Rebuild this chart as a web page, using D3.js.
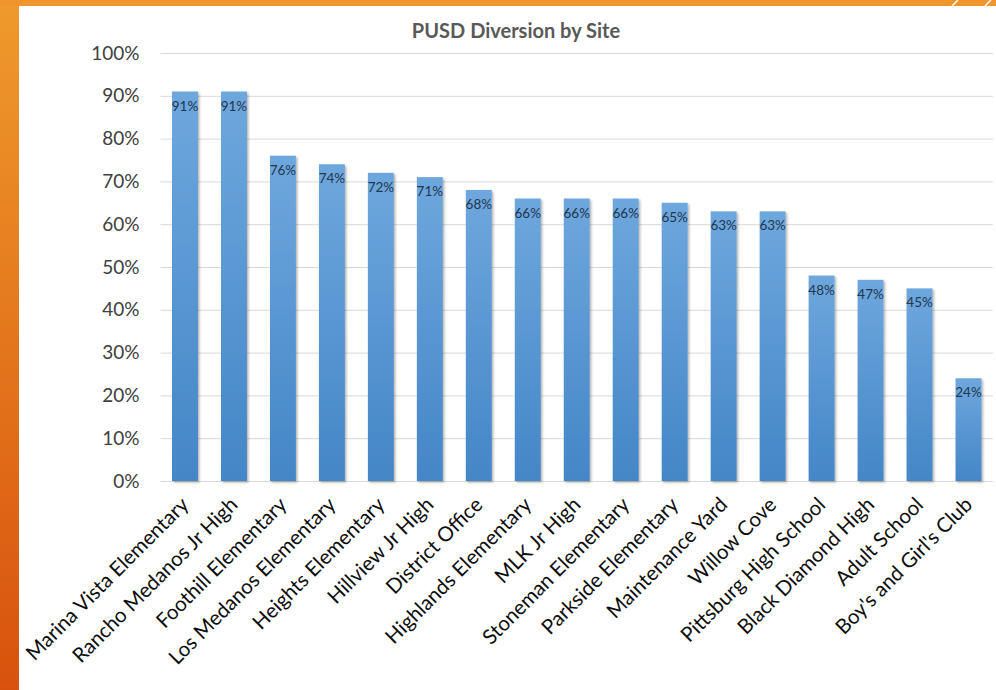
<!DOCTYPE html>
<html>
<head>
<meta charset="utf-8">
<script src="https://cdn.jsdelivr.net/npm/d3@7/dist/d3.min.js"></script>
<style>
  body { margin: 0; background: #fff; }
  svg { display: block; font-family: Lato, "Open Sans", sans-serif; }
</style>
</head>
<body>
<div id="chart"></div>
<script>
// site names, left to right as in the chart
const categories = [
  "Marina Vista Elementary", "Rancho Medanos Jr High", "Foothill Elementary",
  "Los Medanos Elementary", "Heights Elementary", "Hillview Jr High",
  "District Office", "Highlands Elementary", "MLK Jr High",
  "Stoneman Elementary", "Parkside Elementary", "Maintenance Yard",
  "Willow Cove", "Pittsburg High School", "Black Diamond High",
  "Adult School", "Boy's and Girl's Club"
];
// diversion rate per site
const values = [0.91, 0.91, 0.76, 0.74, 0.72, 0.71, 0.68, 0.66, 0.66, 0.66, 0.65, 0.63, 0.63, 0.48, 0.47, 0.45, 0.24];
const yTicks = [0, 0.1, 0.2, 0.3, 0.4, 0.5, 0.6, 0.7, 0.8, 0.9, 1.0];
const title = "PUSD Diversion by Site";

const width = 996, height = 690;
const plot = { left: 160.5, right: 993, top: 53, bottom: 481 };

const svg = d3.select("#chart").append("svg")
  .attr("width", width)
  .attr("height", height);

const defs = svg.append("defs");

const barGrad = defs.append("linearGradient")
  .attr("id", "barGrad").attr("x1", 0).attr("y1", 0).attr("x2", 0).attr("y2", 1);
barGrad.append("stop").attr("offset", "0%").attr("stop-color", "#6ea7dd");
barGrad.append("stop").attr("offset", "100%").attr("stop-color", "#4486c7");

const sideGrad = defs.append("linearGradient")
  .attr("id", "sideGrad").attr("x1", 0).attr("y1", 0).attr("x2", 0).attr("y2", 1);
sideGrad.append("stop").attr("offset", "0%").attr("stop-color", "#ef9a2c");
sideGrad.append("stop").attr("offset", "100%").attr("stop-color", "#d8520d");

const shadow = defs.append("filter").attr("id", "shadow")
  .attr("x", "-20%").attr("y", "-5%").attr("width", "150%").attr("height", "115%");
shadow.append("feDropShadow")
  .attr("dx", 1.5).attr("dy", 1.5).attr("stdDeviation", 1.2)
  .attr("flood-color", "#000").attr("flood-opacity", 0.3);

// slide frame
svg.append("rect").attr("x", 0).attr("y", 0).attr("width", 19).attr("height", height)
  .attr("fill", "url(#sideGrad)");
svg.append("rect").attr("x", 0).attr("y", 0).attr("width", width).attr("height", 6)
  .attr("fill", "#f0952b");
svg.append("g").selectAll("line").data([952, 985]).join("line")
  .attr("x1", d => d).attr("y1", 6).attr("x2", d => d + 6).attr("y2", 0)
  .attr("stroke", "#fff").attr("stroke-width", 1.5);

const x = d3.scaleBand()
  .domain(categories)
  .range([plot.left, plot.right])
  .paddingInner(0.47)
  .paddingOuter(0.235);

const y = d3.scaleLinear()
  .domain([0, 1])
  .range([plot.bottom, plot.top]);

// gridlines
svg.append("g")
  .attr("transform", `translate(${plot.left},0)`)
  .call(d3.axisLeft(y).tickValues(yTicks).tickSize(-(plot.right - plot.left)).tickFormat(""))
  .call(g => g.select(".domain").remove())
  .call(g => g.selectAll("line").attr("stroke", "#d9d9d9").attr("stroke-width", 1));

// y labels
svg.append("g")
  .attr("transform", `translate(${plot.left},0)`)
  .call(d3.axisLeft(y).tickValues(yTicks).tickSize(0).tickPadding(21).tickFormat(d3.format(".0%")))
  .call(g => g.select(".domain").remove())
  .call(g => g.selectAll("text")
    .attr("font-family", "Lato, sans-serif")
    .attr("font-size", "19px")
    .attr("fill", "#404040"));

// bars
svg.append("g").selectAll("rect")
  .data(values)
  .join("rect")
  .attr("x", (d, i) => x(categories[i]))
  .attr("y", d => y(d))
  .attr("width", x.bandwidth())
  .attr("height", d => y(0) - y(d))
  .attr("fill", "url(#barGrad)")
  .attr("filter", "url(#shadow)");

// value labels
svg.append("g").selectAll("text")
  .data(values)
  .join("text")
  .attr("x", (d, i) => x(categories[i]) + x.bandwidth() / 2)
  .attr("y", d => y(d) + 19)
  .attr("text-anchor", "middle")
  .attr("font-family", "Lato, sans-serif")
  .attr("font-size", "13.5px")
  .attr("fill", "#22364d")
  .text(d => d3.format(".0%")(d));

// x labels
svg.append("g")
  .attr("transform", `translate(0,${plot.bottom})`)
  .call(d3.axisBottom(x).tickSize(0).tickPadding(0))
  .call(g => g.select(".domain").remove())
  .call(g => g.selectAll("text")
    .attr("font-family", "Lato, sans-serif")
    .attr("font-size", "20.5px")
    .attr("fill", "#0d0d0d")
    .attr("text-anchor", "end")
    .attr("dy", 0)
    .attr("y", 0)
    .attr("transform", "translate(5,25) rotate(-45)"));

svg.append("text")
  .attr("x", 516)
  .attr("y", 38)
  .attr("text-anchor", "middle")
  .attr("font-family", "Lato, sans-serif")
  .attr("font-weight", "bold")
  .attr("font-size", "20px")
  .attr("fill", "#595959")
  .text(title);
</script>
</body>
</html>
